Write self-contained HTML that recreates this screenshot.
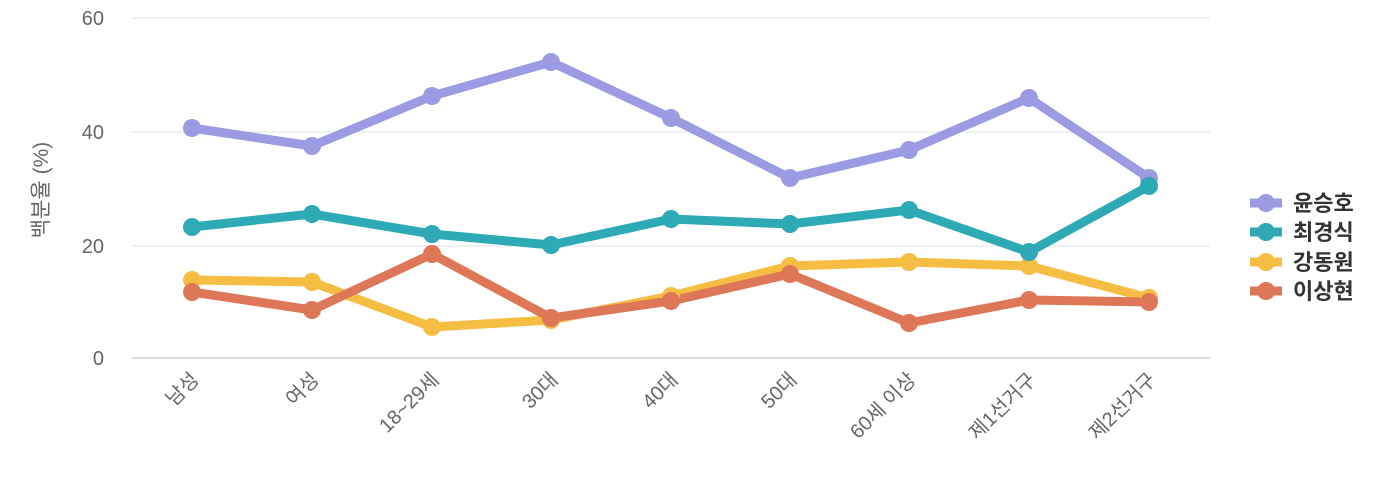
<!DOCTYPE html>
<html><head><meta charset="utf-8"><style>
html,body{margin:0;padding:0;background:#fff;}
svg{display:block;font-family:"Liberation Sans","Noto Sans CJK KR",sans-serif;}
</style></head><body>
<svg width="1400" height="500" viewBox="0 0 1400 500">
<g stroke="#dde1e8" stroke-width="1">
<line x1="132" y1="18" x2="1210" y2="18"/>
<line x1="132" y1="132" x2="1210" y2="132"/>
<line x1="132" y1="246" x2="1210" y2="246"/>
</g>
<line x1="132" y1="358" x2="1210" y2="358" stroke="#c8d0dc" stroke-width="1.5"/>
<g fill="#666" font-size="20" text-anchor="end">
<text x="104" y="25">60</text><text x="104" y="139">40</text><text x="104" y="253">20</text><text x="104" y="365">0</text>
</g>
<text transform="translate(48,190) rotate(-90)" text-anchor="middle" fill="#666" font-size="21">백분율 (%)</text>
<g fill="#666" font-size="20" text-anchor="end">
<text transform="translate(200,381) rotate(-45)">남성</text>
<text transform="translate(320,381) rotate(-45)">여성</text>
<text transform="translate(440,381) rotate(-45)">18~29세</text>
<text transform="translate(559,381) rotate(-45)">30대</text>
<text transform="translate(679,381) rotate(-45)">40대</text>
<text transform="translate(798,381) rotate(-45)">50대</text>
<text transform="translate(917,381) rotate(-45)">60세 이상</text>
<text transform="translate(1037,381) rotate(-45)">제1선거구</text>
<text transform="translate(1157,381) rotate(-45)">제2선거구</text>
</g>
<g fill="none" stroke-width="9" stroke-linejoin="round">
<polyline stroke="#9b9be3" points="192,128 312,146 432,96 551,62 671,118 790,178 909,150 1029,98 1149,178"/>
<polyline stroke="#2eaab6" points="192,227 312,214 432,234 551,245 671,219 790,224 909,210 1029,252 1149,186"/>
<polyline stroke="#f5bd42" points="192,280 312,282 432,327 551,320 671,296 790,266 909,262 1029,266 1149,298"/>
<polyline stroke="#de7757" points="192,292 312,310 432,254 551,318 671,301 790,274 909,323 1029,300 1149,302"/>
</g>
<g fill="#9b9be3"><circle cx="192" cy="128" r="9"/><circle cx="312" cy="146" r="9"/><circle cx="432" cy="96" r="9"/><circle cx="551" cy="62" r="9"/><circle cx="671" cy="118" r="9"/><circle cx="790" cy="178" r="9"/><circle cx="909" cy="150" r="9"/><circle cx="1029" cy="98" r="9"/><circle cx="1149" cy="178" r="9"/></g>
<g fill="#f5bd42"><circle cx="192" cy="280" r="9"/><circle cx="312" cy="282" r="9"/><circle cx="432" cy="327" r="9"/><circle cx="551" cy="320" r="9"/><circle cx="671" cy="296" r="9"/><circle cx="790" cy="266" r="9"/><circle cx="909" cy="262" r="9"/><circle cx="1029" cy="266" r="9"/><circle cx="1149" cy="298" r="9"/></g>
<g fill="#de7757"><circle cx="192" cy="292" r="9"/><circle cx="312" cy="310" r="9"/><circle cx="432" cy="254" r="9"/><circle cx="551" cy="318" r="9"/><circle cx="671" cy="301" r="9"/><circle cx="790" cy="274" r="9"/><circle cx="909" cy="323" r="9"/><circle cx="1029" cy="300" r="9"/><circle cx="1149" cy="302" r="9"/></g>
<g fill="#2eaab6"><circle cx="192" cy="227" r="9"/><circle cx="312" cy="214" r="9"/><circle cx="432" cy="234" r="9"/><circle cx="551" cy="245" r="9"/><circle cx="671" cy="219" r="9"/><circle cx="790" cy="224" r="9"/><circle cx="909" cy="210" r="9"/><circle cx="1029" cy="252" r="9"/><circle cx="1149" cy="186" r="9"/></g>
<g font-size="22" font-weight="bold" fill="#333">
<line x1="1250" y1="203" x2="1282" y2="203" stroke="#9b9be3" stroke-width="9"/><circle cx="1266" cy="203" r="9" fill="#9b9be3"/><text x="1293" y="211">윤승호</text>
<line x1="1250" y1="232" x2="1282" y2="232" stroke="#2eaab6" stroke-width="9"/><circle cx="1266" cy="232" r="9" fill="#2eaab6"/><text x="1293" y="240">최경식</text>
<line x1="1250" y1="262" x2="1282" y2="262" stroke="#f5bd42" stroke-width="9"/><circle cx="1266" cy="262" r="9" fill="#f5bd42"/><text x="1293" y="270">강동원</text>
<line x1="1250" y1="291" x2="1282" y2="291" stroke="#de7757" stroke-width="9"/><circle cx="1266" cy="291" r="9" fill="#de7757"/><text x="1293" y="299">이상현</text>
</g>
</svg>
</body></html>
